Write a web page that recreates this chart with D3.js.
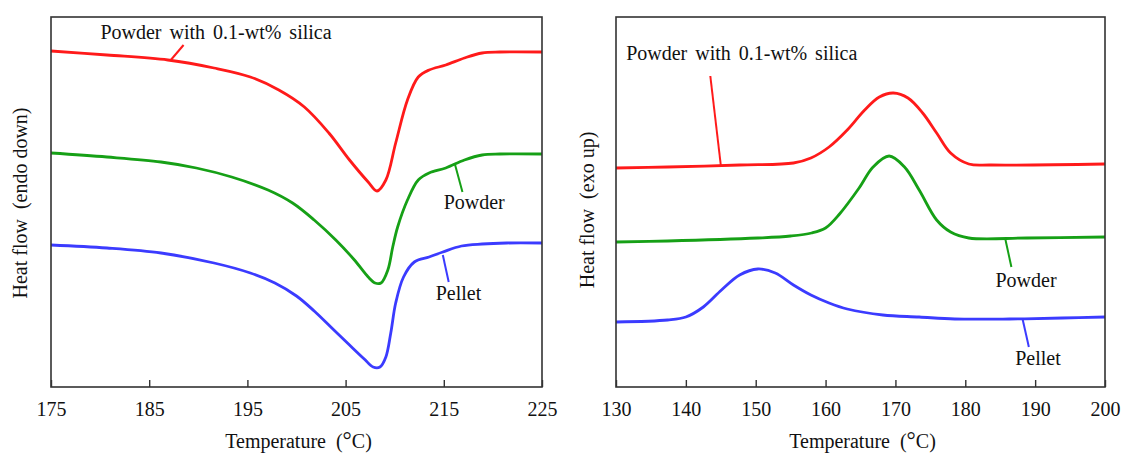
<!DOCTYPE html>
<html><head><meta charset="utf-8">
<script src="https://cdn.jsdelivr.net/npm/d3@7"></script>
<style>
html,body{margin:0;padding:0;background:#fff;}
text{font-family:"Liberation Serif","Times New Roman",serif;fill:#111;}
</style></head>
<body>
<svg id="c" width="1123" height="455"></svg>
<script>
// ---- Data (temperature in °C, heat flow in arbitrary units) ----
const meltTemp   = [175,180.7,186.9,191.6,195.3,198.2,200.8,203.3,205.4,207.3,208.2,209.1,210.1,211.3,212.4,213.5,215.2,217.1,218.9,220.7,225];
const meltSilica = [33.6,33.2,32.7,31.9,31.0,29.7,28.0,25.4,22.7,20.5,19.6,20.7,24.4,28.7,31.0,31.7,32.2,32.9,33.4,33.5,33.5];

const meltTempPowder = [175,180.7,186.2,189.8,193.4,197.1,199.6,201.8,204.0,205.9,207.3,208.0,208.6,209.3,209.8,210.3,211.3,212.4,213.5,215.2,217.1,218.9,220.7,225];
const meltPowder     = [23.4,23.0,22.5,21.9,21.0,19.7,18.4,16.7,14.7,12.7,11.0,10.4,10.4,11.7,14.0,16.0,18.7,20.7,21.4,21.9,22.7,23.2,23.3,23.3];

const meltTempPellet = [175,180.7,186.2,191.6,195.3,197.8,200.0,201.8,203.6,205.4,206.9,207.8,208.5,209.1,209.6,210.1,210.9,212.0,213.5,214.9,216.8,218.9,221.4,225];
const meltPellet     = [14.2,13.9,13.4,12.4,11.4,10.4,9.1,7.6,5.9,4.2,2.8,2.0,2.0,3.0,5.4,8.4,11.0,12.5,13.0,13.5,14.1,14.3,14.4,14.4];

const crysTempSilica = [130,137.4,147.7,155.4,157.9,160.5,163.1,165.6,167.7,169.7,171.8,173.9,175.9,177.9,180.5,183.7,200];
const crysSilica     = [21.9,22.0,22.2,22.4,22.9,24.0,25.7,27.7,29.0,29.4,28.9,27.4,25.4,23.4,22.3,22.2,22.3];

const crysTempPowder = [130,137.4,150.3,155.0,158.0,160.0,162.0,164.8,166.8,169.1,171.3,173.4,175.9,177.9,180.5,188.8,200];
const crysPowder     = [14.5,14.6,14.9,15.1,15.4,15.9,17.3,19.9,22.0,23.1,22.0,19.7,16.7,15.5,14.9,14.9,15.0];

const crysTempPellet = [130,137.4,140.0,142.5,145.1,147.7,150.3,152.8,155.4,157.9,160.5,163.1,168.2,173.4,178.5,186.3,193.9,200];
const crysPellet     = [6.5,6.7,7.0,8.0,9.7,11.2,11.8,11.4,10.2,9.2,8.4,7.8,7.2,7.0,6.8,6.8,6.9,7.0];

const meltTicks = [175,185,195,205,215,225];
const crysTicks = [130,140,150,160,170,180,190,200];
const seriesNames = ["Powder with 0.1-wt% silica","Powder","Pellet"];
const seriesColors = ["#ff1a1a","#16a016","#3b3bff"];

// annotation anchors: [labelT, labelV, lineT1, lineV1, lineT2, lineV2]
const meltNotes = [[191.8,35.5,188.5,34.2,187.2,32.7],[218.1,18.5,216.1,22.4,216.9,19.5],[216.5,9.4,214.9,13.2,215.5,10.5]];
const crysNotes = [[148.0,33.4,143.5,31.1,145.0,22.2],[188.7,10.7,185.7,14.9,186.6,12.0],[190.4,2.9,188.2,6.8,189.1,4.0]];

const svg = d3.select("#c");
const FS = 20;

function panel(opt){
  const {x0,x1,y0,y1,dom,ticks,series,notes,ytitle} = opt;
  const x = d3.scaleLinear().domain(dom).range([x0,x1]);
  const y = d3.scaleLinear().domain([0,37]).range([y1,y0]);
  const g = svg.append("g");
  const line = d3.line().x(d=>x(d[0])).y(d=>y(d[1])).curve(d3.curveCatmullRom.alpha(0.5));
  series.forEach((s,i)=>{
    g.append("path").datum(d3.zip(s[0],s[1]))
      .attr("d",line).attr("fill","none")
      .attr("stroke",seriesColors[i]).attr("stroke-width",2.8)
      .attr("stroke-linejoin","round");
  });
  g.append("rect").attr("x",x0).attr("y",y0).attr("width",x1-x0).attr("height",y1-y0)
    .attr("fill","none").attr("stroke","#333").attr("stroke-width",1.6);
  const ax = g.append("g").attr("transform",`translate(0,${y1})`)
    .call(d3.axisBottom(x).tickValues(ticks).tickSizeInner(-7).tickSizeOuter(0).tickPadding(23).tickFormat(d3.format("d")));
  ax.select(".domain").remove();
  ax.selectAll("line").attr("stroke","#333").attr("stroke-width",1.4);
  ax.selectAll("text").attr("font-size",FS).attr("font-family","Liberation Serif").attr("fill","#111").attr("dy","0.3em");
  const xt = g.append("text").attr("x",(x0+x1)/2+2).attr("y",448).attr("text-anchor","middle").attr("font-size",FS);
  xt.append("tspan").text("Temperature\u00A0\u00A0(");
  xt.append("tspan").text("\u00B0").attr("font-size",FS+3);
  xt.append("tspan").text("C)");
  g.append("text").attr("transform",`translate(${opt.ytx},${opt.yty}) rotate(-90)`)
    .attr("text-anchor","middle").attr("font-size",FS).attr("dy","0.35em").text(ytitle);
  notes.forEach((n,i)=>{
    g.append("line").attr("x1",x(n[2])).attr("y1",y(n[3])).attr("x2",x(n[4])).attr("y2",y(n[5]))
      .attr("stroke",seriesColors[i]).attr("stroke-width",2);
    g.append("text").attr("x",x(n[0])).attr("y",y(n[1])).attr("text-anchor","middle")
      .attr("dy","0.35em").attr("font-size",FS).attr("word-spacing", i===0 ? 3 : 0).text(seriesNames[i]);
  });
}

panel({x0:51,x1:542,y0:17,y1:387,dom:[175,225],ticks:meltTicks,
  series:[[meltTemp,meltSilica],[meltTempPowder,meltPowder],[meltTempPellet,meltPellet]],
  notes:meltNotes, ytitle:"Heat flow\u00A0\u00A0(endo down)", ytx:20, yty:203});
panel({x0:616,x1:1105,y0:17,y1:387,dom:[130,200],ticks:crysTicks,
  series:[[crysTempSilica,crysSilica],[crysTempPowder,crysPowder],[crysTempPellet,crysPellet]],
  notes:crysNotes, ytitle:"Heat flow\u00A0\u00A0(exo up)", ytx:587, yty:210});
</script>
</body></html>
